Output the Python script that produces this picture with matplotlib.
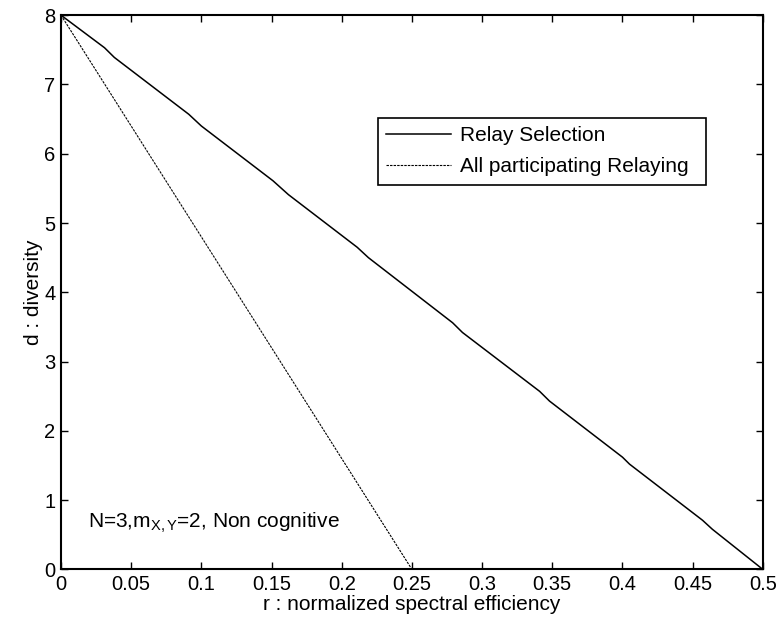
import matplotlib
matplotlib.use("Agg")
import matplotlib.pyplot as plt
import numpy as np

plt.rcParams["font.family"] = ["Liberation Sans", "DejaVu Sans"]
plt.rcParams["mathtext.fontset"] = "custom"
plt.rcParams["mathtext.rm"] = "Liberation Sans"
plt.rcParams["mathtext.it"] = "Liberation Sans"
plt.rcParams["font.size"] = 15

# data
r_sel = [0, 0.031, 0.038, 0.091, 0.100, 0.151, 0.162, 0.211, 0.219,
         0.279, 0.286, 0.341, 0.348, 0.400, 0.405, 0.457, 0.464, 0.5]
d_sel = [8, 7.53, 7.39, 6.57, 6.40, 5.61, 5.41, 4.65, 4.50,
         3.56, 3.42, 2.57, 2.43, 1.62, 1.52, 0.71, 0.58, 0]
r_all = [0, 0.25]
d_all = [8, 0]

xticks = [0, 0.05, 0.1, 0.15, 0.2, 0.25, 0.3, 0.35, 0.4, 0.45, 0.5]
xticklabels = ["0", "0.05", "0.1", "0.15", "0.2", "0.25", "0.3", "0.35", "0.4", "0.45", "0.5"]
yticks = list(range(0, 9))

fig = plt.figure(figsize=(7.79, 6.32), dpi=100)
ax = fig.add_axes([0.0783, 0.099, 0.901, 0.877])

ax.plot(r_sel, d_sel, color="black", lw=1.1, label="Relay Selection")
ax.plot(r_all, d_all, color="black", lw=0.8, dashes=(2.2, 1.0),
        label="All participating Relaying")

ax.set_xlim(0, 0.5)
ax.set_ylim(0, 8)
ax.set_xticks(xticks)
ax.set_xticklabels(xticklabels)
ax.set_yticks(yticks)
ax.tick_params(direction="in", length=5, width=1.0, top=True, right=True,
               labelsize=14.5, pad=4)
for s in ax.spines.values():
    s.set_linewidth(1.5)

ax.set_xlabel("r : normalized spectral efficiency", fontsize=15, labelpad=1)
ax.set_ylabel("d : diversity", fontsize=15, labelpad=1)

ax.text(0.0195, 0.597, r"N=3,m$_{X,Y}$=2, Non cognitive", fontsize=15,
        ha="left", va="baseline")

leg = ax.legend(loc="upper left", bbox_to_anchor=(0.4516, 0.8145, 0.4674, 0),
                mode="expand", fancybox=False, framealpha=1, edgecolor="black",
                borderpad=0.4, handlelength=3.1, handletextpad=0.43,
                labelspacing=0.57, fontsize=15, borderaxespad=0)
leg.get_frame().set_linewidth(1.2)

fig.savefig("out.png", dpi=100, facecolor="white")
